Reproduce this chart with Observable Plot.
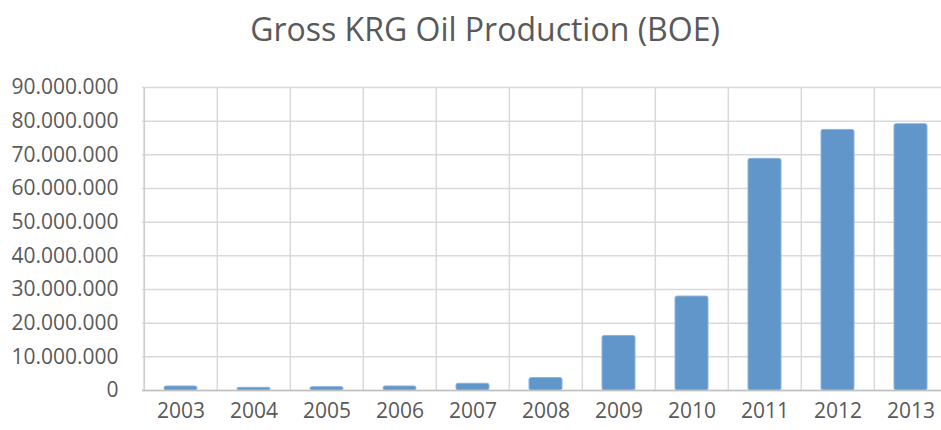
<!DOCTYPE html>
<html>
<head>
<meta charset="utf-8">
<script src="https://cdn.jsdelivr.net/npm/d3@7"></script>
<script src="https://cdn.jsdelivr.net/npm/@observablehq/plot@0.6"></script>
<style>
  html, body { margin: 0; padding: 0; background: #fff; overflow: hidden; }
  #title { width: 970px; height: 62px; line-height: 58px; text-align: center;
    font-family: "Open Sans", sans-serif; font-size: 32px; color: #595959; }
  #chart svg { display: block; max-width: none !important; height: 368px !important; }
</style>
</head>
<body>
<div id="title">Gross KRG Oil Production (BOE)</div>
<div id="chart"></div>
<script>
const years = ["2003","2004","2005","2006","2007","2008","2009","2010","2011","2012","2013"];
const production = [1200000, 800000, 1000000, 1200000, 2000000, 3700000, 16200000, 27900000, 68800000, 77400000, 79100000];
const yTicks = [0, 10000000, 20000000, 30000000, 40000000, 50000000, 60000000, 70000000, 80000000, 90000000];

const data = years.map((year, i) => ({year, value: production[i]}));
const fmt = d => d3.format(",")(d).replace(/,/g, ".");

const W = 950, ML = 142, MR = 1;
const step = (W - ML - MR) / years.length;

const chart = Plot.plot({
  width: W,
  height: 368,
  marginLeft: ML,
  marginRight: MR,
  marginTop: 25,
  marginBottom: 40,
  style: {fontFamily: "'Open Sans', sans-serif", fontSize: "21px", color: "#595959", background: "#fff"},
  x: {domain: years, padding: 0, label: null, tickSize: 0, tickPadding: 13},
  y: {domain: [0, 90000000], ticks: yTicks, tickFormat: fmt, label: null, tickSize: 0, tickPadding: 24},
  marks: [
    Plot.ruleY(yTicks, {stroke: "#d9d9d9", strokeWidth: 1.5}),
    Plot.ruleX(years, {x: d => d, dx: -step / 2, stroke: "#d9d9d9", strokeWidth: 1.5}),
    Plot.barY(data, {x: "year", y: "value", fill: "#6096c9", stroke: "#8cb2dd", strokeWidth: 1, insetLeft: 20, insetRight: 20, rx: 2}),
    Plot.ruleY([0], {stroke: "#bfbfbf", strokeWidth: 1.5}),
    Plot.ruleX([years[0]], {x: d => d, dx: -step / 2, stroke: "#cfcfcf", strokeWidth: 1.5})
  ]
});
document.getElementById("chart").append(chart);
</script>
</body>
</html>
